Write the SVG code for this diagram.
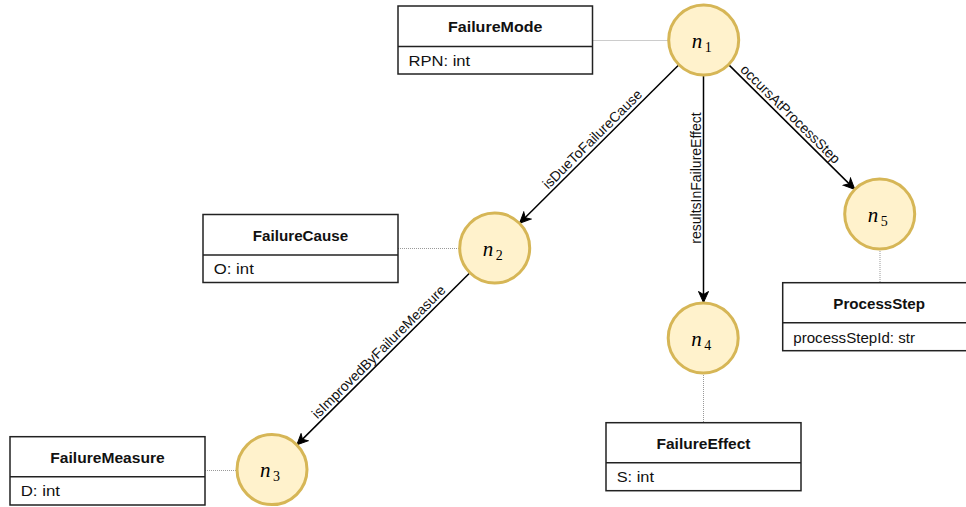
<svg xmlns="http://www.w3.org/2000/svg" width="966" height="507" viewBox="0 0 966 507">
<defs>
<style>
.box{fill:#fff;stroke:#222;stroke-width:1.5}
.div{stroke:#222;stroke-width:1.5}
.title{font-family:"Liberation Sans",Arial,sans-serif;font-weight:bold;font-size:15px;fill:#111;text-anchor:middle}
.attr{font-family:"Liberation Sans",Arial,sans-serif;font-size:15px;fill:#111}
.node{fill:#FFF2CC;stroke:#D6B656;stroke-width:3}
.nl{font-family:"Liberation Serif","Times New Roman",serif;font-style:italic;font-size:21px;fill:#000}
.sub{font-style:normal;font-size:14px}
.edge{fill:none;stroke:#000;stroke-width:1.5}
.dot{fill:none;stroke:#999;stroke-width:1;stroke-dasharray:1 1}
.lbl{font-family:"Liberation Sans",Arial,sans-serif;font-size:14px;fill:#111;text-anchor:middle}
</style>
<marker id="arr" markerUnits="userSpaceOnUse" markerWidth="14" markerHeight="12" viewBox="-12 -6 14 12" refX="0" refY="0" orient="auto">
<path d="M0,0 L-11,-5 L-8,0 L-11,5 Z" fill="#000" stroke="#000" stroke-width="1" stroke-linejoin="miter"/>
</marker>
</defs>

<g id="connectors">
<line class="dot" x1="592.5" y1="40.5" x2="668.7" y2="40.5"/>
<line class="dot" x1="398" y1="248.5" x2="459.7" y2="248.5"/>
<line class="dot" x1="205" y1="470.5" x2="237" y2="470.5"/>
<line class="dot" x1="703.5" y1="373" x2="703.5" y2="422.7"/>
<line class="dot" x1="880" y1="249" x2="880" y2="282.7"/>
<line class="edge" x1="678.9" y1="64.7" x2="519.5" y2="223.3" marker-end="url(#arr)"/>
<line class="edge" x1="703.5" y1="75" x2="703.5" y2="302.5" marker-end="url(#arr)"/>
<line class="edge" x1="728.6" y1="64.6" x2="854.8" y2="189.4" marker-end="url(#arr)"/>
<line class="edge" x1="469.9" y1="272.7" x2="296.8" y2="444.9" marker-end="url(#arr)"/>
<text class="lbl" transform="translate(599.2,144) rotate(-44.86)" x="-1.5" y="-3.5">isDueToFailureCause</text>
<text class="lbl" transform="translate(703.5,178) rotate(-90)" x="0" y="-2.5">resultsInFailureEffect</text>
<text class="lbl" transform="translate(791.7,127) rotate(44.67)" x="-10" y="-3.5">occursAtProcessStep</text>
<text class="lbl" transform="translate(383.4,358.8) rotate(-44.86)" x="1.5" y="-3.5">isImprovedByFailureMeasure</text>
</g>

<g id="FailureMode">
<rect class="box" x="398" y="6" width="194.5" height="68"/>
<line class="div" x1="398" y1="46.5" x2="592.5" y2="46.5"/>
<text class="title" x="495.2" y="32.3" textLength="94.4" lengthAdjust="spacingAndGlyphs">FailureMode</text>
<text class="attr" x="408.5" y="65.7" textLength="61.7" lengthAdjust="spacingAndGlyphs">RPN: int</text>
</g>

<g id="FailureCause">
<rect class="box" x="203" y="214.5" width="195" height="68"/>
<line class="div" x1="203" y1="255" x2="398" y2="255"/>
<text class="title" x="300.5" y="241" textLength="95.3" lengthAdjust="spacingAndGlyphs">FailureCause</text>
<text class="attr" x="213.8" y="274.3" textLength="40" lengthAdjust="spacingAndGlyphs">O: int</text>
</g>

<g id="FailureMeasure">
<rect class="box" x="10" y="436.7" width="195" height="68.3"/>
<line class="div" x1="10" y1="476.7" x2="205" y2="476.7"/>
<text class="title" x="107.5" y="463.2" textLength="114.3" lengthAdjust="spacingAndGlyphs">FailureMeasure</text>
<text class="attr" x="20.7" y="496.3" textLength="39.3" lengthAdjust="spacingAndGlyphs">D: int</text>
</g>

<g id="FailureEffect">
<rect class="box" x="606" y="422.7" width="195" height="68"/>
<line class="div" x1="606" y1="462.7" x2="801" y2="462.7"/>
<text class="title" x="703.5" y="449.2" textLength="94" lengthAdjust="spacingAndGlyphs">FailureEffect</text>
<text class="attr" x="616.7" y="482.3" textLength="37.3" lengthAdjust="spacingAndGlyphs">S: int</text>
</g>

<g id="ProcessStep">
<rect class="box" x="782.7" y="282.7" width="195" height="68"/>
<line class="div" x1="782.7" y1="322.7" x2="977.7" y2="322.7"/>
<text class="title" x="879.2" y="309.3" textLength="91.7" lengthAdjust="spacingAndGlyphs">ProcessStep</text>
<text class="attr" x="793.3" y="342.5" textLength="121.7" lengthAdjust="spacingAndGlyphs">processStepId: str</text>
</g>

<g id="n1">
<circle class="node" cx="703.7" cy="40" r="35"/>
<text class="nl" x="691.7" y="47.7">n<tspan class="sub" x="704.7" y="51.7">1</tspan></text>
</g>
<g id="n2">
<circle class="node" cx="494.7" cy="248" r="35"/>
<text class="nl" x="482.7" y="255.7">n<tspan class="sub" x="495.7" y="259.7">2</tspan></text>
</g>
<g id="n3">
<circle class="node" cx="272" cy="469.6" r="35"/>
<text class="nl" x="260" y="477.3">n<tspan class="sub" x="273" y="481.3">3</tspan></text>
</g>
<g id="n4">
<circle class="node" cx="703.2" cy="338" r="35"/>
<text class="nl" x="691.2" y="345.7">n<tspan class="sub" x="704.2" y="349.7">4</tspan></text>
</g>
<g id="n5">
<circle class="node" cx="879.7" cy="214" r="35"/>
<text class="nl" x="867.7" y="221.7">n<tspan class="sub" x="880.7" y="225.7">5</tspan></text>
</g>
</svg>
